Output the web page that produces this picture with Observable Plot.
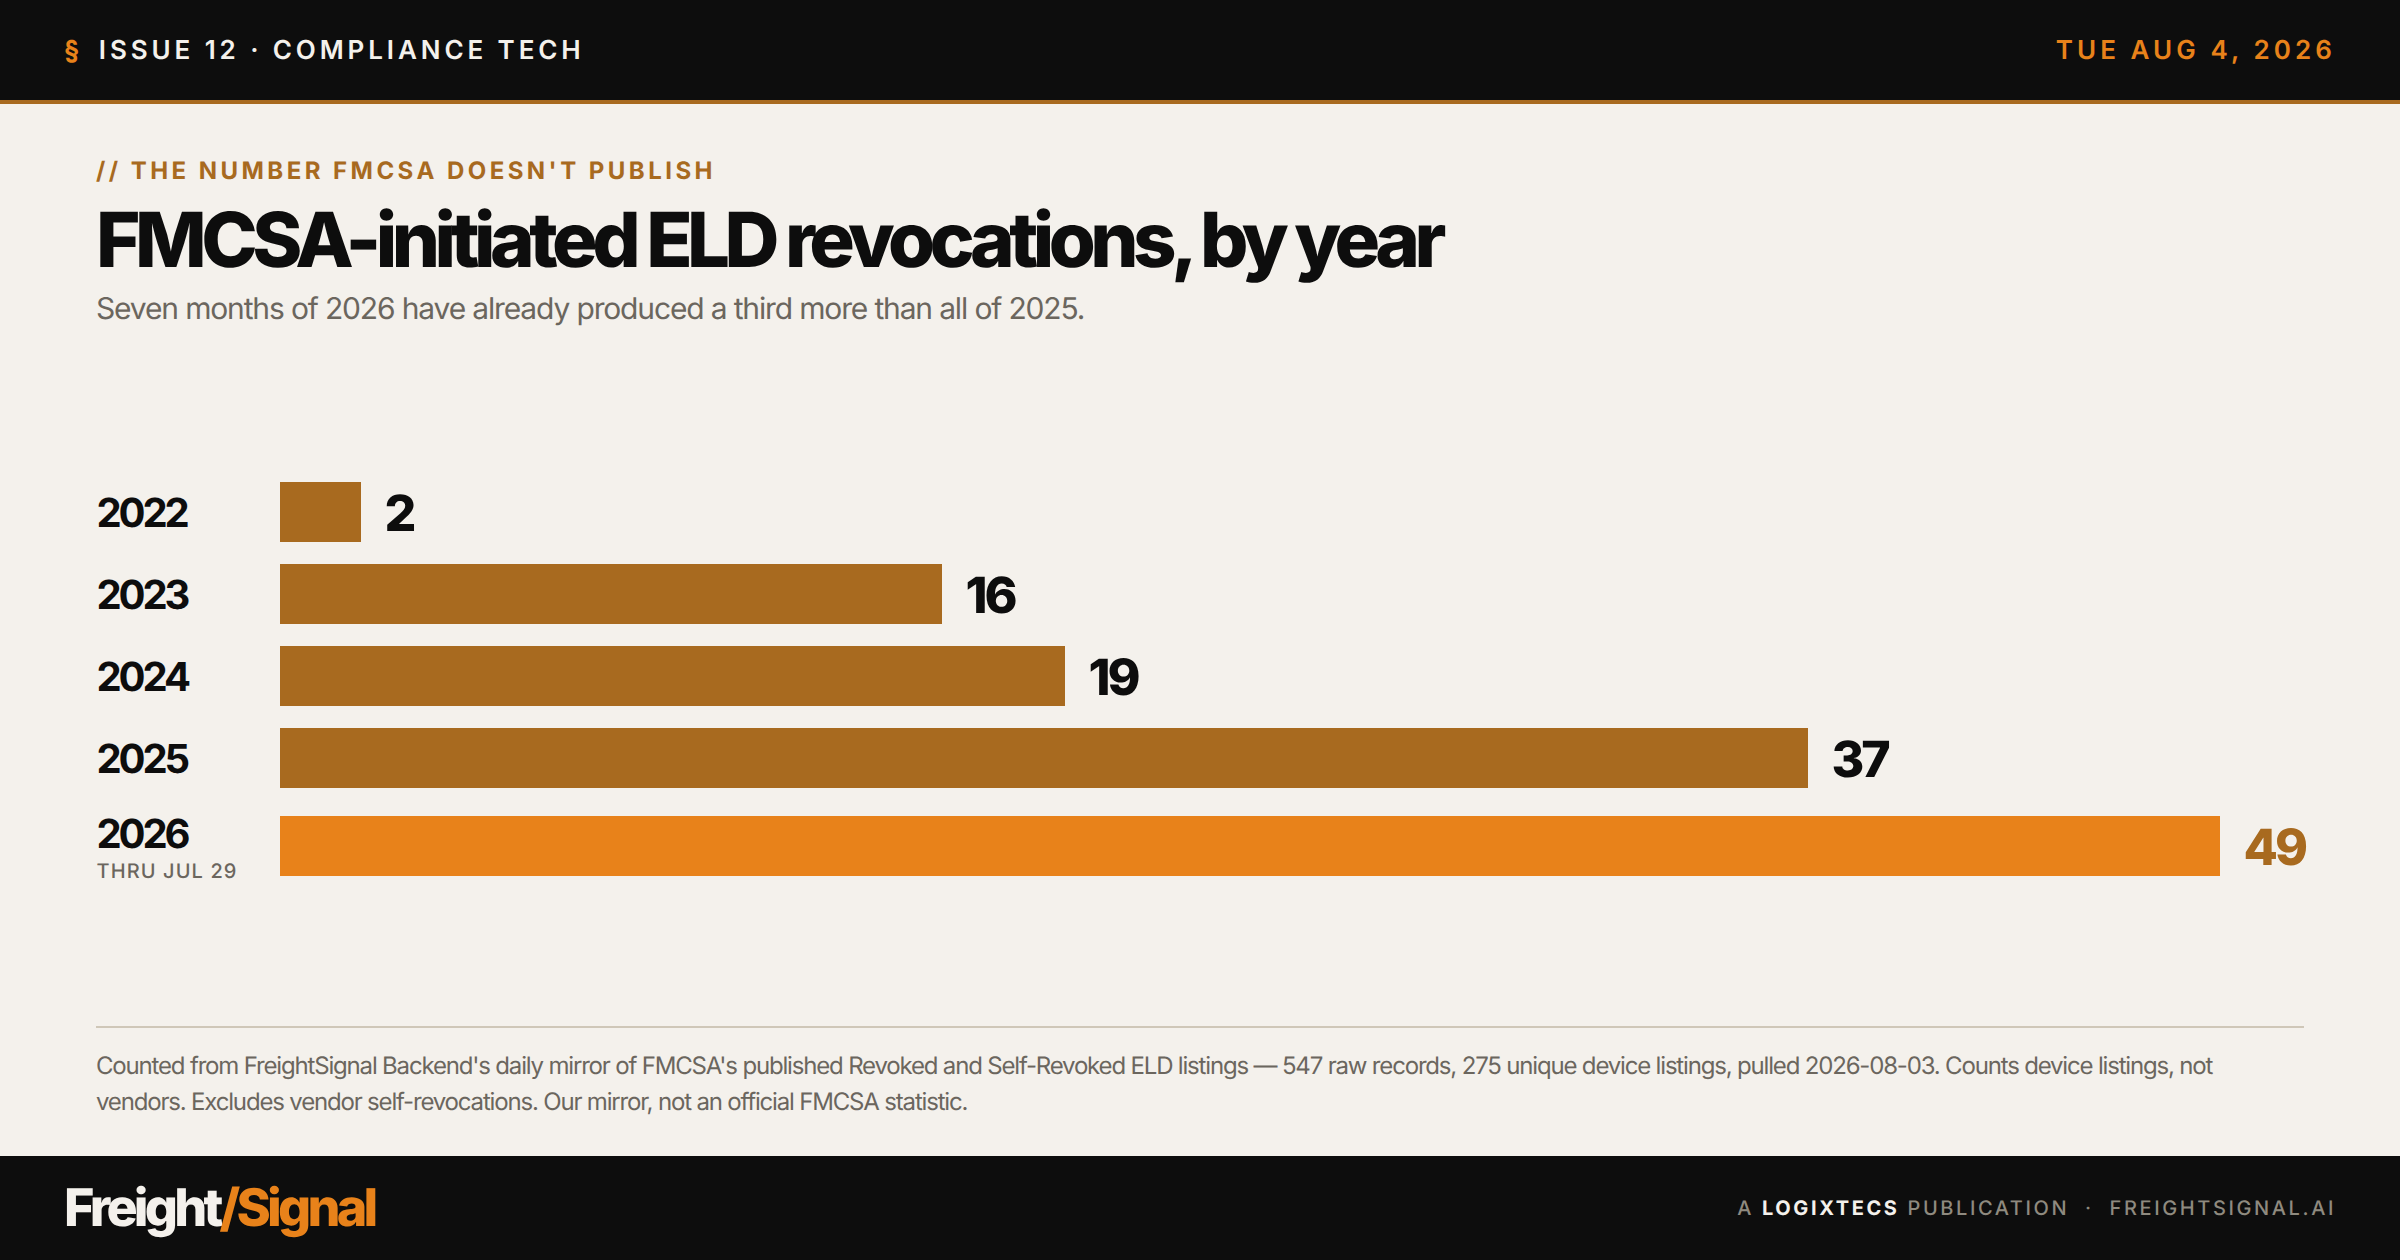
<!DOCTYPE html>
<html>
<head>
<meta charset="utf-8">
<script src="https://cdn.jsdelivr.net/npm/d3@7"></script>
<script src="https://cdn.jsdelivr.net/npm/@observablehq/plot@0.6"></script>
<style>
html,body{margin:0;padding:0;background:#f4f1ec;}
*{text-rendering:geometricPrecision;}
body{width:2400px;height:1260px;position:relative;overflow:hidden;font-family:Inter,sans-serif;}
.abs{position:absolute;white-space:nowrap;}
#top{left:0;top:0;width:2400px;height:100px;background:#0d0d0d;border-bottom:4px solid #a86a1f;}
#issue{left:64px;top:35px;font-size:26px;line-height:32px;font-weight:600;letter-spacing:.15em;color:#f4f1ec;}
#issue b{color:#e8821a;font-weight:700;margin-right:.6em;}
#date{right:64px;top:35px;font-size:26px;line-height:32px;font-weight:600;letter-spacing:.157em;color:#e8821a;}
#eyebrow{left:96px;top:156px;font-size:24px;line-height:30px;font-weight:700;letter-spacing:.144em;color:#a86a1f;}
#title{left:96px;top:194px;font-size:76px;line-height:92px;font-weight:800;letter-spacing:-.0727em;color:#0d0d0d;}
#sub{left:96px;top:290px;font-size:30px;line-height:38px;font-weight:400;letter-spacing:-.0385em;color:#6b665e;}
#chart{left:0;top:470px;}
#rule{left:96px;top:1026px;width:2208px;height:2px;background:#cfc7b8;}
#note{left:96px;top:1048px;width:2190px;font-size:24px;line-height:36px;letter-spacing:-.049em;color:#6b665e;white-space:normal;}
#foot{left:0;top:1156px;width:2400px;height:104px;background:#0d0d0d;}
#logo{left:64px;top:1178px;font-size:52px;line-height:60px;font-weight:800;letter-spacing:-.073em;color:#f4f1ec;}
#logo span{color:#e8821a;}
#pub{right:64px;top:1195px;font-size:20px;line-height:26px;font-weight:500;letter-spacing:.13em;color:#8f8a7f;}
#pub b{color:#f4f1ec;font-weight:700;}
svg text{font-family:Inter,sans-serif;text-rendering:geometricPrecision;}
svg [font-size="40"]{letter-spacing:-.077em;}
svg [font-size="50"]{letter-spacing:-.06em;}
svg [font-size="20"]{letter-spacing:.055em;}
</style>
</head>
<body>
<div class="abs" id="top"></div>
<div class="abs" id="issue"><b>§</b>ISSUE 12 · COMPLIANCE TECH</div>
<div class="abs" id="date">TUE AUG 4, 2026</div>
<div class="abs" id="eyebrow">// THE NUMBER FMCSA DOESN'T PUBLISH</div>
<div class="abs" id="title">FMCSA-initiated ELD revocations, by year</div>
<div class="abs" id="sub">Seven months of 2026 have already produced a third more than all of 2025.</div>
<div class="abs" id="chart"></div>
<div class="abs" id="rule"></div>
<div class="abs" id="note">Counted from FreightSignal Backend's daily mirror of FMCSA's published Revoked and Self-Revoked ELD listings — 547 raw records, 275 unique device listings, pulled 2026-08-03. Counts device listings, not vendors. Excludes vendor self-revocations. Our mirror, not an official FMCSA statistic.</div>
<div class="abs" id="foot"></div>
<div class="abs" id="logo">Freight<span>/Signal</span></div>
<div class="abs" id="pub">A <b>LOGIXTECS</b> PUBLICATION &nbsp;·&nbsp; FREIGHTSIGNAL.AI</div>
<script>
const years = ["2022", "2023", "2024", "2025", "2026"];
const counts = [2, 16, 19, 37, 49];
const partialYear = "2026";
const partialNote = "THRU JUL 29";

const rows = years.map((year, i) => ({year, count: counts[i]}));
const full = rows.filter(d => d.year !== partialYear);
const partial = rows.filter(d => d.year === partialYear);

const brown = "#a86a1f", orange = "#e8821a", ink = "#0d0d0d", grey = "#6b665e";
const rowShift = 6;

const chart = Plot.plot({
  width: 2400,
  height: 414,
  marginTop: 12,
  marginBottom: 14,
  marginLeft: 0,
  marginRight: 0,
  style: {background: "transparent", overflow: "visible"},
  x: {type: "linear", domain: [0, 2, 16, 19, 37, 49], range: [280, 361, 942, 1065, 1808, 2220], axis: null},
  y: {domain: years, paddingInner: 22 / 82, paddingOuter: 0, align: 0, round: false, axis: null},
  marks: [
    Plot.barX(full, {x: "count", y: "year", fill: brown}),
    Plot.barX(partial, {x: "count", y: "year", fill: orange, dy: rowShift}),
    Plot.text(full, {y: "year", text: "year", frameAnchor: "left", dx: 96, dy: 1.5, textAnchor: "start", fontSize: 40, fontWeight: 700, fill: ink}),
    Plot.text(partial, {y: "year", text: "year", frameAnchor: "left", dx: 96, dy: -5.5, textAnchor: "start", fontSize: 40, fontWeight: 700, fill: ink}),
    Plot.text(partial, {y: "year", text: () => partialNote, frameAnchor: "left", dx: 96, dy: 31, textAnchor: "start", fontSize: 20, fontWeight: 500, fill: grey}),
    Plot.text(full, {x: "count", y: "year", text: "count", dx: 23, dy: 2, textAnchor: "start", fontSize: 50, fontWeight: 800, fontVariant: "normal", fill: ink}),
    Plot.text(partial, {x: "count", y: "year", text: "count", dx: 23, dy: rowShift + 2, textAnchor: "start", fontSize: 50, fontWeight: 800, fontVariant: "normal", fill: brown})
  ]
});
document.getElementById("chart").appendChild(chart);
</script>
</body>
</html>
